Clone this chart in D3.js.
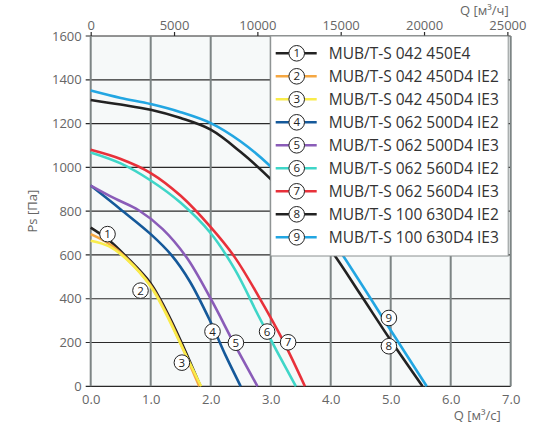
<!DOCTYPE html>
<html>
<head>
<meta charset="utf-8">
<script src="https://cdn.jsdelivr.net/npm/d3@7"></script>
<style>
  body { margin: 0; background: #fff; }
  text { font-family: "Open Sans", "DejaVu Sans", sans-serif; }
</style>
</head>
<body>
<div id="chart"></div>
<script>
// Curve names (legend)
const curveNames = [
  "MUB/T-S 042 450E4",
  "MUB/T-S 042 450D4 IE2",
  "MUB/T-S 042 450D4 IE3",
  "MUB/T-S 062 500D4 IE2",
  "MUB/T-S 062 500D4 IE3",
  "MUB/T-S 062 560D4 IE2",
  "MUB/T-S 062 560D4 IE3",
  "MUB/T-S 100 630D4 IE2",
  "MUB/T-S 100 630D4 IE3"
];
const curveColors = ["#222222", "#f5a742", "#f9ec4a", "#15599a", "#8a5cb8", "#3fd6c8", "#e8313a", "#222222", "#22a6e2"];

// Q [m3/s], Ps [Pa]
const curve1 = [[0, 725], [0.3, 668], [0.6, 590], [1.0, 470], [1.25, 350], [1.5, 208], [1.83, 0]];
const curve2 = [[0, 695], [0.3, 652], [0.6, 584], [1.0, 460], [1.25, 340], [1.5, 195], [1.81, 0]];
const curve3 = [[0, 665], [0.3, 640], [0.6, 580], [1.0, 456], [1.25, 334], [1.5, 192], [1.84, 0]];
const curve4 = [[0, 917], [0.5, 808], [1.0, 695], [1.35, 598], [1.65, 480], [2.0, 293], [2.25, 140], [2.5, 0]];
const curve5 = [[0, 917], [0.4, 858], [0.8, 804], [1.2, 718], [1.6, 588], [2.0, 400], [2.4, 190], [2.78, 0]];
const curve6 = [[0, 1068], [0.5, 1018], [1.0, 940], [1.5, 838], [2.0, 699], [2.4, 535], [2.8, 320], [3.1, 162], [3.42, 0]];
const curve7 = [[0, 1080], [0.5, 1038], [1.0, 974], [1.5, 870], [2.0, 727], [2.4, 590], [2.8, 410], [3.2, 212], [3.57, 0]];
const curve8 = [[0, 1308], [0.5, 1287], [1.0, 1263], [1.5, 1225], [2.0, 1172], [2.5, 1070], [3.0, 946], [3.5, 795], [4.0, 623], [4.5, 418], [5.0, 210], [5.53, 0]];
const curve9 = [[0, 1351], [0.5, 1317], [1.0, 1289], [1.5, 1252], [2.0, 1202], [2.5, 1118], [3.0, 1004], [3.5, 858], [4.0, 680], [4.5, 472], [5.0, 256], [5.6, 0]];
const curves = [curve1, curve2, curve3, curve4, curve5, curve6, curve7, curve8, curve9];

// Numbered markers on the curves [Q, Ps]
const markerPoints = [[0.28, 695], [0.83, 437], [1.52, 108], [2.03, 250], [2.42, 199], [2.94, 250], [3.29, 201], [4.97, 183], [4.97, 312]];

// Ticks
const xTicks = [0, 1, 2, 3, 4, 5, 6, 7];
const yTicks = [0, 200, 400, 600, 800, 1000, 1200, 1400, 1600];
const topTicks = [0, 5000, 10000, 15000, 20000, 25000];

const width = 551, height = 431;
const margin = { top: 36, right: 40.3, bottom: 44.7, left: 90.7 };
const innerWidth = width - margin.left - margin.right;
const innerHeight = height - margin.top - margin.bottom;

const svg = d3.select("#chart").append("svg")
  .attr("width", width)
  .attr("height", height);

const g = svg.append("g")
  .attr("transform", `translate(${margin.left},${margin.top})`);

const x = d3.scaleLinear().domain([0, 7]).range([0, innerWidth]);
const xTop = d3.scaleLinear().domain([0, 7 * 3600]).range([0, innerWidth]);
const y = d3.scaleLinear().domain([0, 1600]).range([innerHeight, 0]);

// plot background
g.append("rect")
  .attr("width", innerWidth)
  .attr("height", innerHeight)
  .style("fill", "#f6f9f9");

// horizontal grid (sticks out a little on the left)
g.selectAll(".hgrid").data(yTicks).enter().append("line")
  .attr("x1", -5).attr("x2", innerWidth)
  .attr("y1", d => y(d)).attr("y2", d => y(d))
  .style("stroke", "#2a2a2a").style("stroke-width", 1.2);

// vertical grid
g.selectAll(".vgrid").data(xTicks).enter().append("line")
  .attr("x1", d => x(d)).attr("x2", d => x(d))
  .attr("y1", 0).attr("y2", innerHeight)
  .style("stroke", "#7d8585").style("stroke-width", 2);

const tickStyle = sel => sel.selectAll("text")
  .style("font-size", "13px").style("fill", "#666").style("font-family", "Open Sans");

// left axis labels
g.append("g").attr("class", "y-axis")
  .call(d3.axisLeft(y).tickValues(yTicks).tickSize(0).tickPadding(9).tickFormat(d3.format("d")))
  .call(a => a.select(".domain").remove())
  .call(tickStyle);

// bottom axis labels
g.append("g").attr("class", "x-axis")
  .attr("transform", `translate(0,${innerHeight})`)
  .call(d3.axisBottom(x).tickValues(xTicks).tickSize(0).tickPadding(8).tickFormat(d3.format(".1f")))
  .call(a => a.select(".domain").remove())
  .call(tickStyle);

// top axis (m3/h)
g.append("g").attr("class", "top-axis")
  .call(d3.axisTop(xTop).tickValues(topTicks).tickSize(4).tickPadding(2).tickFormat(d3.format("d")))
  .call(a => a.select(".domain").remove())
  .call(a => a.selectAll("line").style("stroke", "#2a2a2a").style("stroke-width", 1.2))
  .call(tickStyle);

// axis titles
svg.append("text")
  .attr("transform", `translate(37,${margin.top + y(800)}) rotate(-90)`)
  .attr("text-anchor", "middle")
  .style("font-size", "13px").style("fill", "#666")
  .text("Ps [Па]");

svg.append("text")
  .attr("x", margin.left + innerWidth - 2).attr("y", 15)
  .attr("text-anchor", "end")
  .style("font-size", "13px").style("fill", "#666")
  .text("Q [м³/ч]");

svg.append("text")
  .attr("x", margin.left + innerWidth - 10).attr("y", 420)
  .attr("text-anchor", "end")
  .style("font-size", "13px").style("fill", "#666")
  .text("Q [м³/с]");

// curves
const line = d3.line()
  .x(d => x(d[0]))
  .y(d => y(d[1]))
  .curve(d3.curveCatmullRom.alpha(0.5));

g.selectAll(".curve").data(curves).enter().append("path")
  .attr("class", "curve")
  .attr("d", line)
  .style("fill", "none")
  .style("stroke", (d, i) => curveColors[i])
  .style("stroke-width", 2.6);

// legend
const legend = g.append("g")
  .attr("transform", `translate(${x(3)},0)`);

legend.append("rect")
  .attr("width", innerWidth - x(3) - 2.5)
  .attr("height", 220)
  .style("fill", "#fff")
  .style("stroke", "#8a9090")
  .style("stroke-width", 1);

const rowStep = 23;
const rows = legend.selectAll(".row").data(curveNames).enter().append("g")
  .attr("transform", (d, i) => `translate(0,${17.3 + i * rowStep})`);

rows.append("line")
  .attr("x1", 5).attr("x2", 46)
  .style("stroke", (d, i) => curveColors[i])
  .style("stroke-width", 2.6);

rows.append("circle")
  .attr("cx", 26).attr("r", 7.8)
  .style("fill", "#fff").style("stroke", "#222").style("stroke-width", 1);

rows.append("text")
  .attr("x", 26).attr("dy", "0.36em")
  .attr("text-anchor", "middle")
  .style("font-size", "11.5px").style("fill", "#222")
  .text((d, i) => i + 1);

rows.append("text")
  .attr("x", 58).attr("dy", "0.36em")
  .style("font-size", "15.5px").style("fill", "#333")
  .text(d => d);

// numbered markers on curves
const markers = g.selectAll(".marker").data(markerPoints).enter().append("g")
  .attr("transform", d => `translate(${x(d[0])},${y(d[1])})`);

markers.append("circle")
  .attr("r", 7.8)
  .style("fill", "#fff").style("stroke", "#222").style("stroke-width", 1);

markers.append("text")
  .attr("dy", "0.36em")
  .attr("text-anchor", "middle")
  .style("font-size", "11.5px").style("fill", "#222")
  .text((d, i) => i + 1);
</script>
</body>
</html>
